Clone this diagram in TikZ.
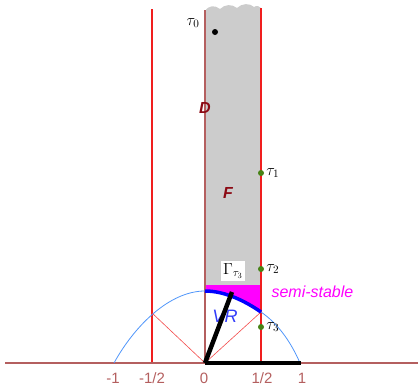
\RequirePackage{fix-cm}
\documentclass[tikz,border=0pt]{standalone}
\usepackage{fontspec}
\newfontfamily\figfont{Liberation Sans}
\usetikzlibrary{positioning}
\definecolor{axisred}{RGB}{180,95,95}
\definecolor{wallred}{RGB}{240,30,30}
\definecolor{dotgreen}{RGB}{70,130,20}
\definecolor{regionred}{RGB}{140,10,20}
\definecolor{arcblue}{RGB}{80,150,250}
\definecolor{vrblue}{RGB}{50,60,250}
\definecolor{semimag}{RGB}{255,0,255}

\begin{document}
\begin{tikzpicture}[
  x=1pt,y=-1pt,
  axis/.style={draw=axisred,line width=1.6pt},
  wall/.style={draw=wallred,line width=1.2pt},
  spoke/.style={draw=wallred!80,line width=0.6pt},
  dot/.style={circle,fill=dotgreen,inner sep=0pt,minimum size=6pt},
  taulabel/.style={inner sep=1pt,font=\fontsize{16}{16}\selectfont},
  ticklabel/.style={text=axisred,font=\figfont\fontsize{15}{15}\selectfont},
  region/.style={text=regionred,font=\figfont\bfseries\itshape\fontsize{16}{16}\selectfont},
  heavy/.style={draw=black,line width=4.5pt}
]
  \useasboundingbox (0,0) rectangle (418,386);

  \coordinate (O) at (205,363);
  \coordinate (rho) at (152,313);
  \coordinate (rhoprime) at (261,312);
  \coordinate (top) at (205,291);
  \coordinate (tauimg) at (232,292);
  \coordinate (one) at (301,363);

  % fundamental strip, cut off at the top
  \fill[gray!40] (205,285) -- (205,11) .. controls (209,5) and (215,5) .. (220,9)
    .. controls (225,4) and (232,4) .. (237,8) .. controls (242,3) and (250,3) .. (254,7)
    .. controls (257,5) and (259,6) .. (261,8) -- (261,285) -- cycle;
  \fill[semimag] (205,285) -- (261,285) -- (rhoprime) .. controls (245,301) and (225,291) .. (top) -- cycle;

  % lines
  \draw[wall] (152,9) -- (152,363);
  \draw[wall] (261,8) -- (261,363);
  \draw[axis,line width=1.2pt] (205,10) -- (O);
  \draw[axis] (5,363) -- (418,363);
  \draw[arcblue,line width=0.8pt] (114,363) .. controls (135,325) and (170,291) .. (top)
    .. controls (225,291) and (245,301) .. (rhoprime) .. controls (277,323) and (290,340) .. (300,363);
  \draw[spoke] (O) -- (rho);
  \draw[spoke] (O) -- (rhoprime);
  \draw[blue,line width=3.5pt] (top) .. controls (225,291) and (245,301) .. (rhoprime);

  \node[text=vrblue,font=\figfont\itshape\fontsize{18}{18}\selectfont] (VR) at (225,316) {VR};
  \draw[heavy] (O) -- (tauimg);
  \draw[heavy] (O) -- (one);

  % points
  \node[circle,fill=black,inner sep=0pt,minimum size=6pt] (t0) at (215,32) {};
  \node[dot] (t1) at (261,173) {};
  \node[dot] (t2) at (261,269) {};
  \node[dot] (t3) at (261,327) {};
  \node[taulabel] (t0lab) at (193,23) {$\tau_0$};
  \node[taulabel,right=1pt of t1] (t1lab) {$\tau_1$};
  \node[taulabel,right=1pt of t2] (t2lab) {$\tau_2$};
  \node[taulabel,right=1pt of t3] (t3lab) {$\tau_3$};

  % labels
  \node[region] (D) at (205,108) {D};
  \node[region] (F) at (228,193) {F};
  \node[fill=white,inner sep=2pt,font=\fontsize{16}{16}\selectfont] (gamma) at (233,271) {$\Gamma_{\tau_3}$};
  \node[text=semimag,font=\figfont\itshape\fontsize{16}{16}\selectfont,anchor=west] (semi) at (268,292) {semi-stable};
  \foreach \x/\t in {113/{-1},152/{-1/2},204/{0},262/{1/2},302/{1}}
    \node[ticklabel] at (\x,378) {\t};
\end{tikzpicture}
\end{document}
